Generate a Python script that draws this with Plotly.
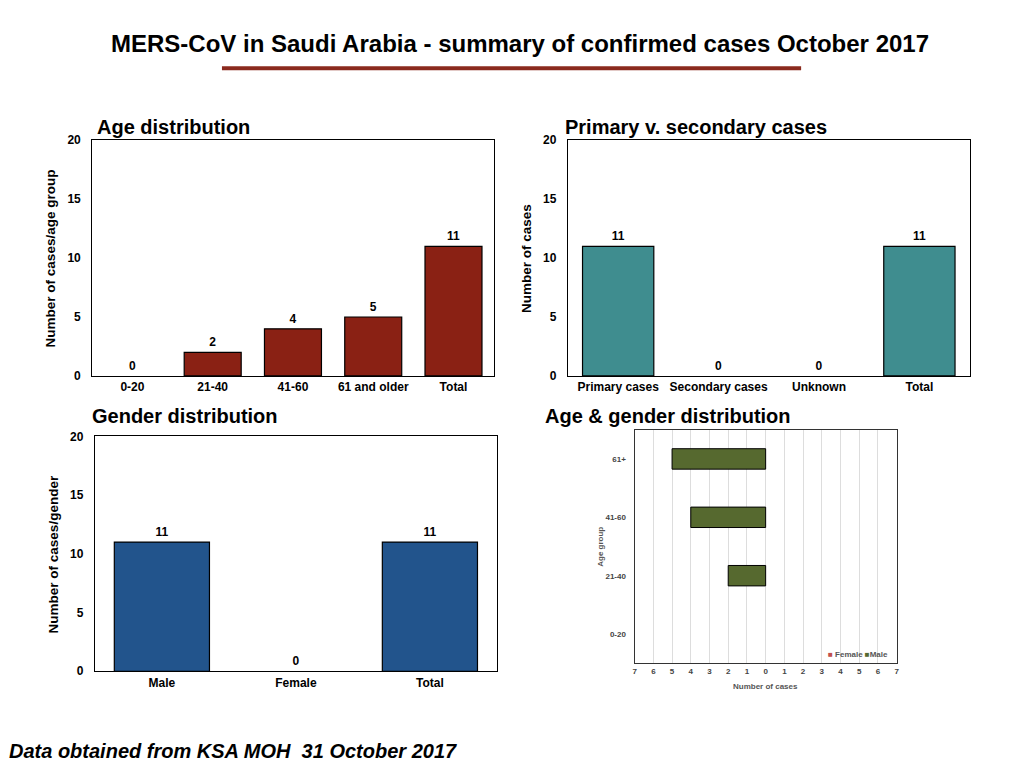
import plotly.graph_objects as go

W, H = 1024, 768

# data
age_groups = ['0-20', '21-40', '41-60', '61 and older', 'Total']
age_cases = [0, 2, 4, 5, 11]

case_types = ['Primary cases', 'Secondary cases', 'Unknown', 'Total']
case_counts = [11, 0, 0, 11]

genders = ['Male', 'Female', 'Total']
gender_counts = [11, 0, 11]

pyramid_groups = ['0-20', '21-40', '41-60', '61+']
pyramid_male = [0, 2, 4, 5]
pyramid_female = [0, 0, 0, 0]
pyramid_ticks = [-7, -6, -5, -4, -3, -2, -1, 0, 1, 2, 3, 4, 5, 6, 7]

FONT = 'Liberation Sans'
BOLD = dict(family=FONT, size=12, color='black', weight='bold')

# the page shows the figure slightly offset, so positions are measured on the
# slide and mapped back here
def px_x(p):
    return (p - 8) / W


def px_y(p):
    return 1 - ((p - 13.6) / 0.985) / H


def outline(vals, w):
    # no outline on empty bars, otherwise a stray line sits on the axis
    return [w if v else 0 for v in vals]


def bar_trace(x, y, color, xa, ya):
    return go.Bar(x=x, y=y, xaxis=xa, yaxis=ya, width=0.71,
                  marker=dict(color=color, line=dict(color='black', width=outline(y, 1.2))),
                  text=[str(v) for v in y], textposition='outside',
                  textfont=BOLD, cliponaxis=False, showlegend=False)


fig = go.Figure()
fig.add_trace(bar_trace(age_groups, age_cases, '#8a2114', 'x', 'y'))
fig.add_trace(bar_trace(case_types, case_counts, '#3f8d8f', 'x2', 'y2'))
fig.add_trace(bar_trace(genders, gender_counts, '#22548c', 'x3', 'y3'))

# age & gender pyramid, males drawn to the left
fig.add_trace(go.Bar(y=pyramid_groups, x=pyramid_female, orientation='h', name='Female',
                     xaxis='x4', yaxis='y4', width=0.35, showlegend=False,
                     marker=dict(color='#c0504d', line=dict(color='black', width=outline(pyramid_female, 1)))))
fig.add_trace(go.Bar(y=pyramid_groups, x=[-v for v in pyramid_male], orientation='h', name='Male',
                     xaxis='x4', yaxis='y4', width=0.35, showlegend=False,
                     marker=dict(color='#56692f', line=dict(color='black', width=outline(pyramid_male, 1)))))

box = dict(showline=True, linecolor='black', linewidth=1.2, mirror=True,
           showgrid=False, zeroline=False, ticks='', tickfont=BOLD, fixedrange=True)

yax = dict(box, range=[0, 20], tickvals=[0, 5, 10, 15, 20], ticklabelstandoff=8)

small = dict(family=FONT, size=8, color='#444444', weight='bold')

fig.update_layout(
    width=W, height=H,
    margin=dict(l=0, r=0, t=0, b=0),
    plot_bgcolor='white', paper_bgcolor='white',
    barmode='overlay',
    showlegend=False,
    font=dict(family=FONT),
    xaxis=dict(box, domain=[px_x(90.7), px_x(494)], anchor='y'),
    yaxis=dict(yax, domain=[px_y(375.7), px_y(139.3)], anchor='x'),
    xaxis2=dict(box, domain=[px_x(568.7), px_x(972.3)], anchor='y2'),
    yaxis2=dict(yax, domain=[px_y(375.7), px_y(139.3)], anchor='x2'),
    xaxis3=dict(box, domain=[px_x(93.3), px_x(497.3)], anchor='y3'),
    yaxis3=dict(yax, domain=[px_y(672), px_y(436.3)], anchor='x3'),
    xaxis4=dict(domain=[px_x(635.7), px_x(899)], anchor='y4', range=[-7, 7],
                tickvals=pyramid_ticks, ticktext=[str(abs(v)) for v in pyramid_ticks],
                showgrid=True, gridcolor='#dddddd', gridwidth=1, zeroline=False,
                showline=True, linecolor='#333333', linewidth=1.2, mirror=True,
                ticks='', tickfont=small, fixedrange=True),
    yaxis4=dict(domain=[px_y(664), px_y(429.7)], anchor='x4',
                showgrid=False, zeroline=False, showline=True, linecolor='#333333',
                linewidth=1.2, mirror=True, ticks='', tickfont=small,
                ticklabelstandoff=6, fixedrange=True),
)

head = dict(family=FONT, size=20, color='black', weight='bold')
axt = dict(family=FONT, size=13.5, color='black', weight='bold')
grey = dict(family=FONT, size=8, color='#555555', weight='bold')

anns = [
    dict(x=px_x(521), y=px_y(42), text='MERS-CoV in Saudi Arabia - summary of confirmed cases October 2017',
         font=dict(family='Liberation Sans Narrow, ' + FONT, size=24, color='black', weight='bold'),
         xanchor='center', yanchor='middle'),
    dict(x=px_x(93), y=px_y(126), text='Age distribution', font=head, xanchor='left', yanchor='middle'),
    dict(x=px_x(564), y=px_y(126), text='Primary v. secondary cases', font=head, xanchor='left', yanchor='middle'),
    dict(x=px_x(88), y=px_y(416), text='Gender distribution', font=head, xanchor='left', yanchor='middle'),
    dict(x=px_x(544), y=px_y(416), text='Age & gender distribution', font=head, xanchor='left', yanchor='middle'),
    dict(x=px_x(49), y=px_y(258), text='Number of cases/age group', textangle=-90, font=axt,
         xanchor='center', yanchor='middle'),
    dict(x=px_x(527), y=px_y(258), text='Number of cases', textangle=-90, font=axt,
         xanchor='center', yanchor='middle'),
    dict(x=px_x(52), y=px_y(555), text='Number of cases/gender', textangle=-90, font=axt,
         xanchor='center', yanchor='middle'),
    dict(x=px_x(602), y=px_y(547), text='Age group', textangle=-90, font=grey,
         xanchor='center', yanchor='middle'),
    dict(x=px_x(767), y=px_y(687), text='Number of cases', font=grey, xanchor='center', yanchor='middle'),
    dict(x=px_x(892), y=px_y(655),
         text="<span style='color:#c0504d'>■</span> Female <span style='color:#56692f'>■</span>Male",
         font=grey, xanchor='right', yanchor='middle'),
    dict(x=px_x(5), y=px_y(752), text='Data obtained from KSA MOH \u00a031 October 2017',
         font=dict(family=FONT, size=20, color='black', weight='bold', style='italic'),
         xanchor='left', yanchor='middle'),
]
for a in anns:
    a.update(xref='paper', yref='paper', showarrow=False)
fig.update_layout(annotations=anns)

fig.add_shape(type='line', xref='paper', yref='paper',
              x0=px_x(221), x1=px_x(803), y0=px_y(67), y1=px_y(67),
              line=dict(color='#8b2a1e', width=4))

fig.write_html('out.html')
